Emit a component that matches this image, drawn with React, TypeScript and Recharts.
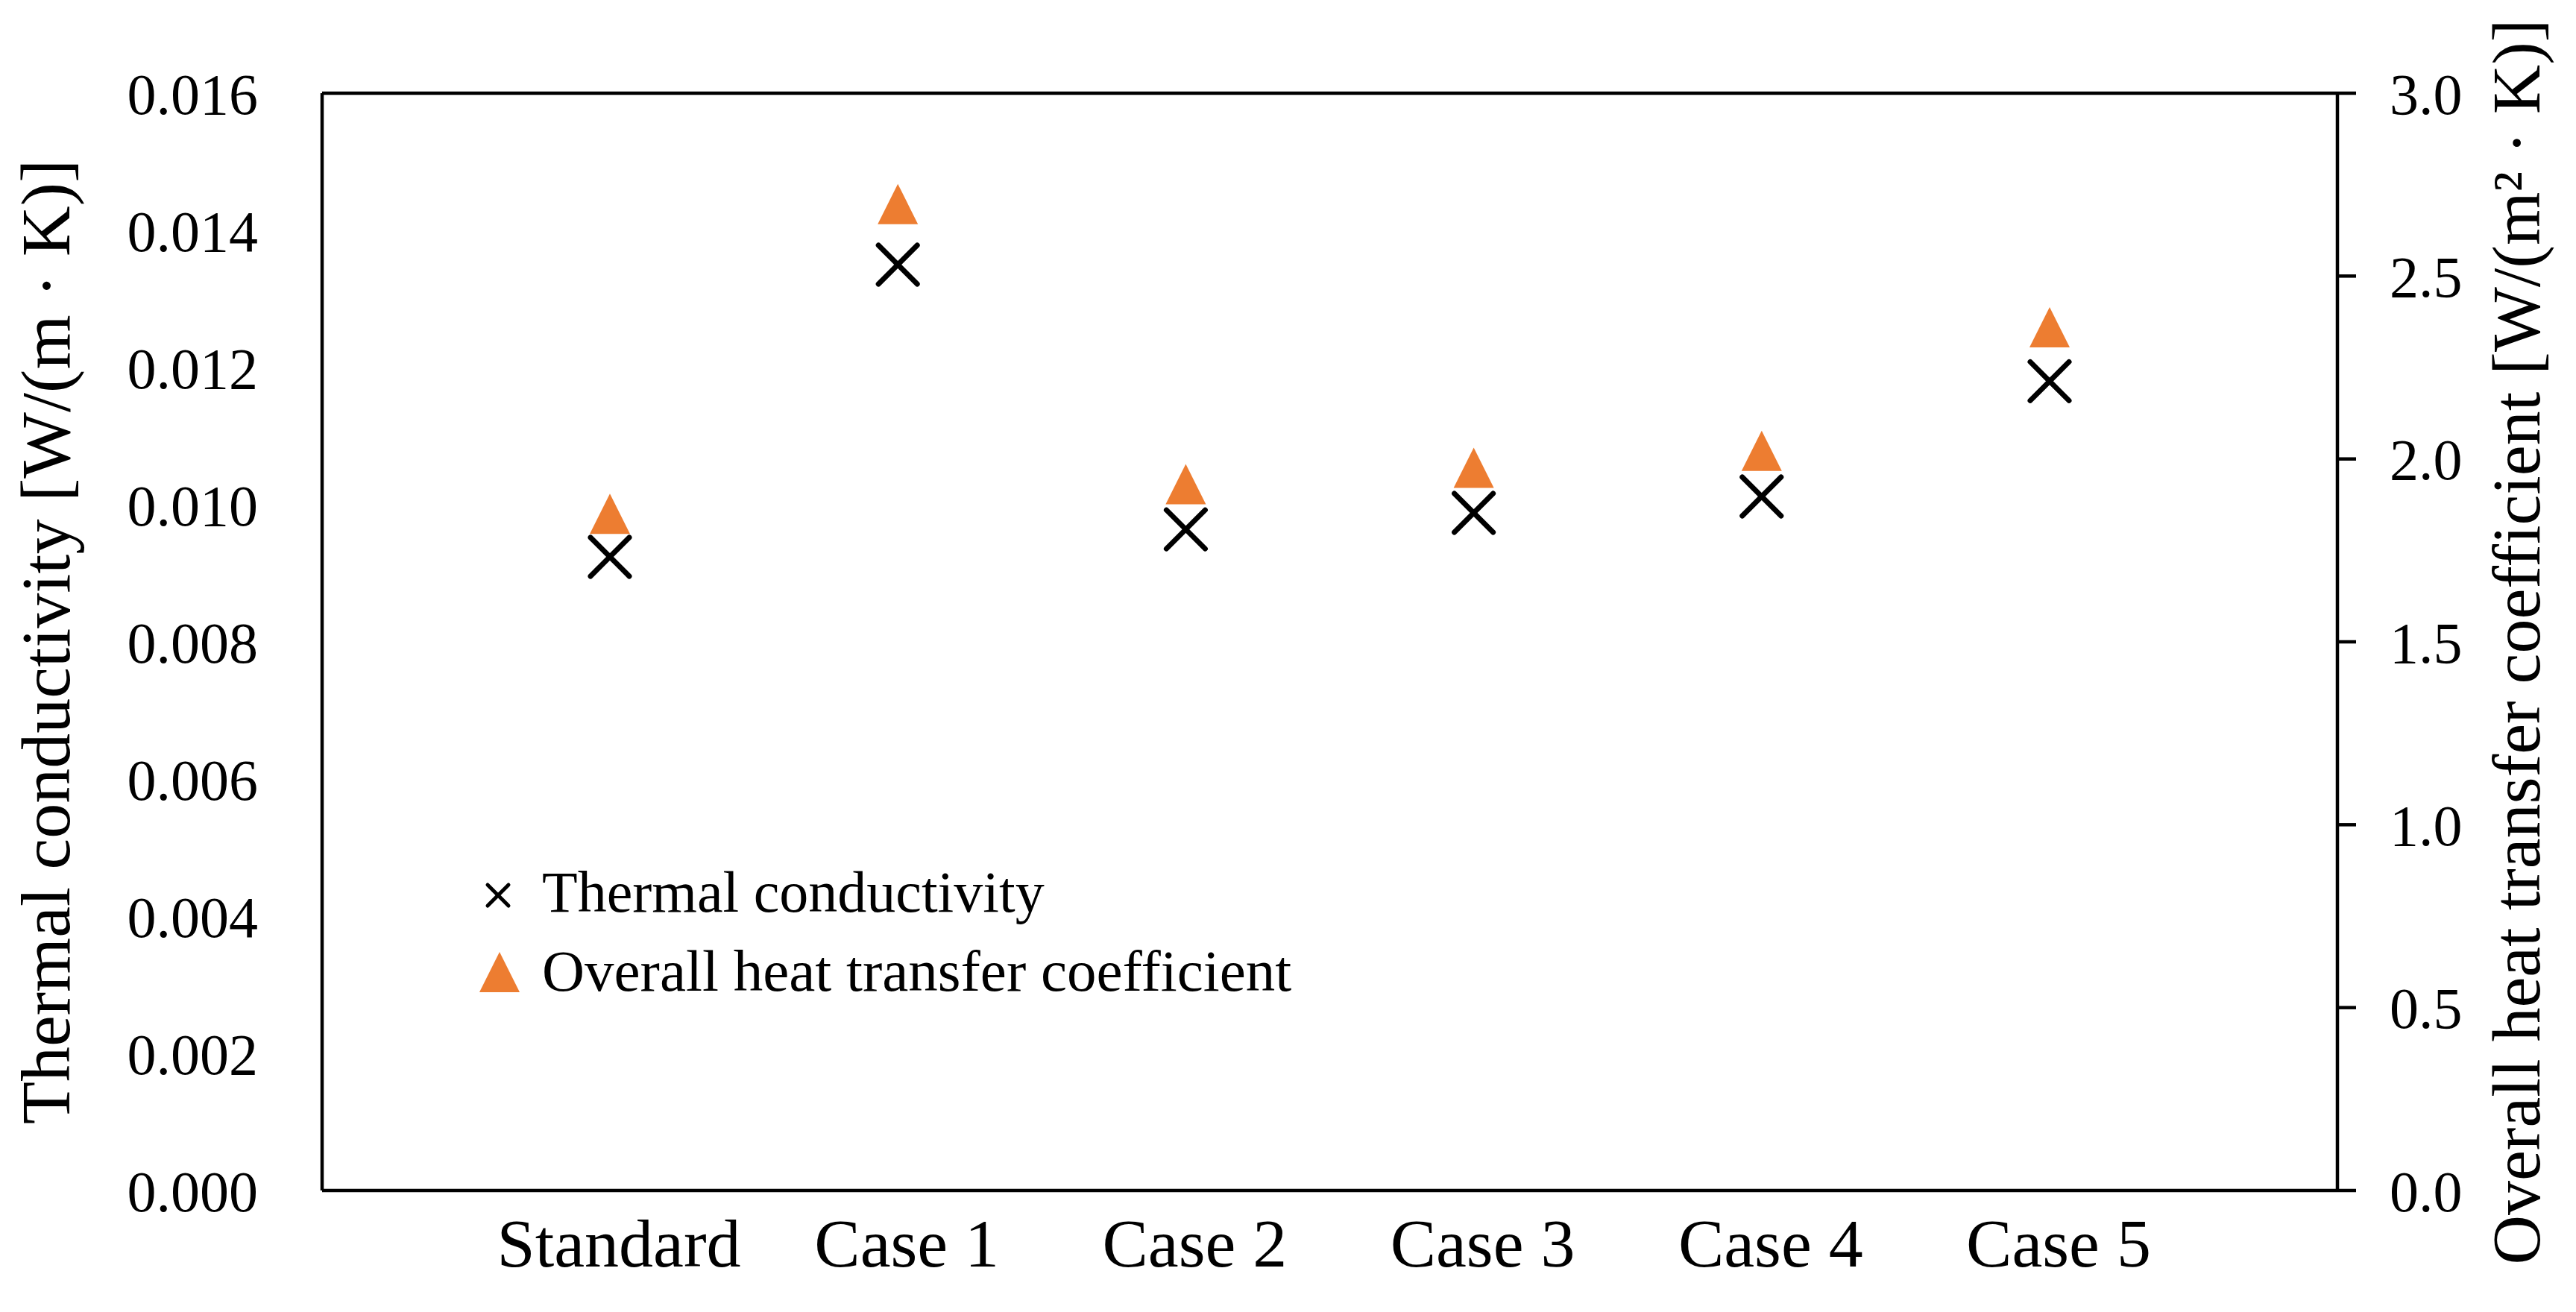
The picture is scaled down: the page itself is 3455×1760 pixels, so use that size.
import React from "react";
import {
  ComposedChart,
  Scatter,
  XAxis,
  YAxis,
  ReferenceLine,
} from "recharts";

const categories = ["Standard", "Case 1", "Case 2", "Case 3", "Case 4", "Case 5"];
const thermalConductivity = [0.00924, 0.0135, 0.00964, 0.00988, 0.01012, 0.0118];
const heatTransferCoefficient = [1.85, 2.697, 1.931, 1.976, 2.022, 2.36];
const leftTicks = [0, 0.002, 0.004, 0.006, 0.008, 0.01, 0.012, 0.014, 0.016];
const rightTicks = [0, 0.5, 1, 1.5, 2, 2.5, 3];
const seriesNames = ["Thermal conductivity", "Overall heat transfer coefficient"];

const data = categories.map((name, i) => ({
  name,
  tc: thermalConductivity[i],
  htc: heatTransferCoefficient[i],
}));

const FONT = '"Liberation Serif", "Times New Roman", serif';
const ORANGE = "#ED7D31";

const CrossMark = (props: any) => {
  const { cx, cy } = props;
  const r = 26;
  return (
    <g stroke="#000" strokeWidth={7} strokeLinecap="round">
      <line x1={cx - r} y1={cy - r} x2={cx + r} y2={cy + r} />
      <line x1={cx - r} y1={cy + r} x2={cx + r} y2={cy - r} />
    </g>
  );
};

const TriangleMark = (props: any) => {
  const { cx, cy } = props;
  const r = 27;
  return (
    <polygon
      points={`${cx},${cy - r} ${cx - r},${cy + r} ${cx + r},${cy + r}`}
      fill={ORANGE}
    />
  );
};

// legend drawn over the plot, bottom-left
const ChartLegend = () => (
  <svg
    width={1200}
    height={230}
    style={{ position: "absolute", left: 620, top: 1140, fontFamily: FONT }}
  >
    <g stroke="#000" strokeWidth={5} strokeLinecap="round">
      <line x1={34} y1={47} x2={62} y2={75} />
      <line x1={34} y1={75} x2={62} y2={47} />
    </g>
    <text x={107} y={83} fontSize={78} fill="#000">
      {seriesNames[0]}
    </text>
    <polygon points="50,137 23,191 77,191" fill={ORANGE} />
    <text x={107} y={189} fontSize={79} fill="#000">
      {seriesNames[1]}
    </text>
  </svg>
);

export default function App() {
  return (
    <div style={{ position: "absolute", left: 0, top: 0, background: "#fff" }}>
      <ComposedChart
        width={3455}
        height={1760}
        data={data}
        margin={{ top: 125, right: 0, bottom: 0, left: 0 }}
        style={{ fontFamily: FONT }}
      >
        <XAxis
          dataKey="name"
          scale="point"
          padding={{ left: 386, right: 386 }}
          height={163}
          tickLine={false}
          tickSize={0}
          tickMargin={37}
          tick={{ fontSize: 92, fill: "#000", fontFamily: FONT, dx: 12 }}
          axisLine={{ stroke: "#000", strokeWidth: 4.5 }}
          interval={0}
        />
        <YAxis
          yAxisId="left"
          orientation="left"
          width={432}
          domain={[0, 0.016]}
          ticks={leftTicks}
          tickFormatter={(v: number) => v.toFixed(3)}
          tickLine={false}
          tickSize={0}
          tickMargin={86}
          tick={{ fontSize: 78, fill: "#000", fontFamily: FONT }}
          axisLine={{ stroke: "#000", strokeWidth: 4.5 }}
          interval={0}
          label={{
            value: "Thermal conductivity [W/(m · K)]",
            angle: -90,
            position: "insideLeft",
            offset: 0,
            dx: 60,
            style: { textAnchor: "middle", fontSize: 94, fill: "#000", fontFamily: FONT },
          }}
        />
        <YAxis
          yAxisId="right"
          orientation="right"
          width={320}
          domain={[0, 3]}
          ticks={rightTicks}
          tickFormatter={(v: number) => v.toFixed(1)}
          tickSize={25}
          tickMargin={45}
          tickLine={{ stroke: "#000", strokeWidth: 4.5 }}
          tick={{ fontSize: 78, fill: "#000", fontFamily: FONT, textAnchor: "start" }}
          axisLine={{ stroke: "#000", strokeWidth: 4.5 }}
          interval={0}
          label={{
            value: "Overall heat transfer coefficient [W/(m² · K)]",
            angle: -90,
            position: "insideLeft",
            offset: 0,
            dx: 238,
            style: { textAnchor: "middle", fontSize: 92, fill: "#000", fontFamily: FONT },
          }}
        />
        <ReferenceLine yAxisId="left" y={0.016} stroke="#000" strokeWidth={4.5} />
        <Scatter
          name={seriesNames[0]}
          yAxisId="left"
          dataKey="tc"
          shape={CrossMark}
          isAnimationActive={false}
        />
        <Scatter
          name={seriesNames[1]}
          yAxisId="right"
          dataKey="htc"
          shape={TriangleMark}
          fill={ORANGE}
          isAnimationActive={false}
        />
      </ComposedChart>
      <ChartLegend />
    </div>
  );
}
